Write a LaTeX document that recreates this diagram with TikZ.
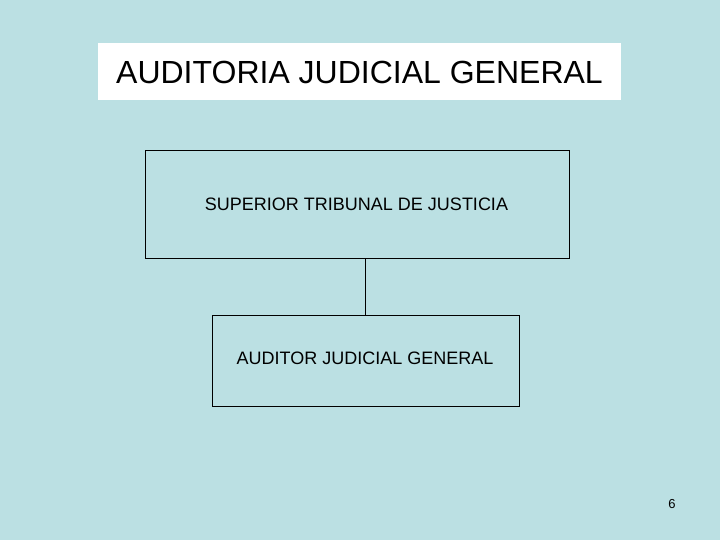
\documentclass[tikz,border=0pt]{standalone}
\usepackage{fontspec}
\setmainfont{Liberation Sans}
\definecolor{bgblue}{RGB}{187,224,227}
\begin{document}
\begin{tikzpicture}[x=1pt,y=-1pt,
  box/.style={draw=black,line width=0.8pt,inner sep=0pt},
  lbl/.style={font=\fontsize{18}{21}\selectfont,inner sep=0pt}]
\fill[bgblue] (0,0) rectangle (720,540);
\useasboundingbox (0,0) rectangle (720,540);
\fill[white] (98,43) rectangle (621,100);
\node[inner sep=0pt,font=\fontsize{32}{38}\selectfont] (title) at (359.5,72) {AUDITORIA JUDICIAL GENERAL};
\node[box,minimum width=424pt,minimum height=108pt] (stj) at (357,204) {};
\node[lbl] at (356.5,204) {SUPERIOR TRIBUNAL DE JUSTICIA};
\node[box,minimum width=307pt,minimum height=91pt] (aud) at (365.5,360.5) {};
\node[lbl] at (365,358) {AUDITOR JUDICIAL GENERAL};
\draw[line width=0.8pt] (stj.south -| aud.north) -- (aud.north);
\node[inner sep=0pt,font=\fontsize{13}{15}\selectfont] (pg) at (672,504) {6};
\end{tikzpicture}
\end{document}
